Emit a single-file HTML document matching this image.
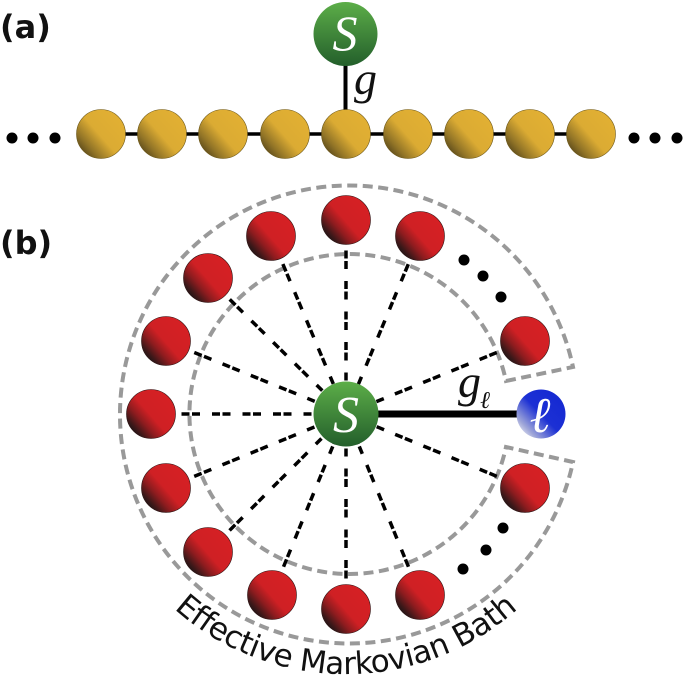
<!DOCTYPE html>
<html>
<head>
<meta charset="utf-8">
<style>
html,body{margin:0;padding:0;background:#fff;width:685px;height:676px;overflow:hidden}
svg{display:block}
</style>
</head>
<body>
<svg width="685" height="676" viewBox="0 0 685 676" xmlns="http://www.w3.org/2000/svg">
<defs>
<linearGradient id="red" x1="0.1" y1="0.85" x2="0.9" y2="0.15">
<stop offset="0" stop-color="#1c1516"/><stop offset="0.1" stop-color="#3d1819"/><stop offset="0.28" stop-color="#8e1c1f"/><stop offset="0.48" stop-color="#cf2024"/><stop offset="1" stop-color="#d62024"/>
</linearGradient>
<linearGradient id="yel" x1="0.1" y1="0.85" x2="0.9" y2="0.15">
<stop offset="0" stop-color="#5e4c1c"/><stop offset="0.17" stop-color="#917427"/><stop offset="0.47" stop-color="#dbab33"/><stop offset="1" stop-color="#e2b033"/>
</linearGradient>
<linearGradient id="grn" x1="0.5" y1="0" x2="0.5" y2="1">
<stop offset="0" stop-color="#5cae48"/><stop offset="0.5" stop-color="#40863a"/><stop offset="1" stop-color="#235f2b"/>
</linearGradient>
<linearGradient id="blu" x1="0.08" y1="0.9" x2="0.92" y2="0.1">
<stop offset="0" stop-color="#e4e6f2"/><stop offset="0.15" stop-color="#9fa6d8"/><stop offset="0.5" stop-color="#1c30d4"/><stop offset="1" stop-color="#1428d2"/>
</linearGradient>
<path id="tp" d="M 150.500 585.000 A 259 259 0 0 0 541.500 585.000" fill="none"/>
</defs>

<text x="0" y="38" font-family="'DejaVu Sans',sans-serif" font-weight="700" font-size="32" fill="#111">(a)</text>
<text x="0" y="254" font-family="'DejaVu Sans',sans-serif" font-weight="700" font-size="32" fill="#111">(b)</text>

<!-- chain -->
<line x1="100" y1="134" x2="592" y2="134" stroke="#000" stroke-width="3.500"/>
<line x1="345.500" y1="60" x2="345.500" y2="115" stroke="#000" stroke-width="4"/>
<g fill="url(#yel)" stroke="#6b5618" stroke-width="0.6">
<circle cx="101" cy="134" r="24.500"/><circle cx="162" cy="134" r="24.500"/><circle cx="223" cy="134" r="24.500"/><circle cx="285" cy="134" r="24.500"/><circle cx="346" cy="134" r="24.500"/><circle cx="408" cy="134" r="24.500"/><circle cx="469" cy="134" r="24.500"/><circle cx="530" cy="134" r="24.500"/><circle cx="591" cy="134" r="24.500"/>
</g>
<g fill="#000">
<circle cx="12" cy="138" r="5.500"/><circle cx="33" cy="138" r="5.500"/><circle cx="55" cy="138" r="5.500"/>
<circle cx="634" cy="138" r="5.500"/><circle cx="655" cy="138" r="5.500"/><circle cx="677" cy="138" r="5.500"/>
</g>
<circle cx="345.500" cy="34" r="32" fill="url(#grn)"/>
<text x="345" y="50" text-anchor="middle" font-family="'Liberation Serif',serif" font-style="italic" font-size="50" fill="#fff">S</text>
<text x="354" y="94" font-family="'Liberation Serif',serif" font-style="italic" font-size="46" fill="#111">g</text>

<!-- gray ring -->
<path d="M 506 381 L 573 367 A 229 229 0 1 0 573 462 L 506 447 A 160 160 0 1 1 506 381 Z" fill="none" stroke="#999" stroke-width="4" stroke-dasharray="10 5.500"/>

<!-- dashed spokes -->
<g stroke="#000" stroke-width="3.500" stroke-dasharray="8 2.500 8 12" fill="none">
<line x1="525" y1="341" x2="346" y2="414"/>
<line x1="420" y1="236" x2="346" y2="414"/>
<line x1="346" y1="220" x2="346" y2="414"/>
<line x1="271" y1="236" x2="346" y2="414"/>
<line x1="208" y1="278" x2="346" y2="414"/>
<line x1="166" y1="341" x2="346" y2="414"/>
<line x1="151" y1="414" x2="346" y2="414"/>
<line x1="166" y1="488" x2="346" y2="414"/>
<line x1="208" y1="552" x2="346" y2="414"/>
<line x1="272" y1="595" x2="346" y2="414"/>
<line x1="346" y1="609" x2="346" y2="414"/>
<line x1="420" y1="595" x2="346" y2="414"/>
<line x1="525" y1="488" x2="346" y2="414"/>
</g>
<line x1="346" y1="414" x2="522" y2="414" stroke="#000" stroke-width="7"/>

<g fill="url(#red)" stroke="#2a1212" stroke-width="0.6">
<circle cx="525" cy="341" r="24.500"/><circle cx="420" cy="236" r="24.500"/><circle cx="346" cy="220" r="24.500"/><circle cx="271" cy="236" r="24.500"/><circle cx="208" cy="278" r="24.500"/><circle cx="166" cy="341" r="24.500"/><circle cx="151" cy="414" r="24.500"/><circle cx="166" cy="488" r="24.500"/><circle cx="208" cy="552" r="24.500"/><circle cx="272" cy="595" r="24.500"/><circle cx="346" cy="609" r="24.500"/><circle cx="420" cy="595" r="24.500"/><circle cx="525" cy="488" r="24.500"/>
</g>
<g fill="#000">
<circle cx="464" cy="260" r="5.500"/><circle cx="483" cy="276" r="5.500"/><circle cx="501" cy="297" r="5.500"/>
<circle cx="463" cy="569" r="5.500"/><circle cx="486" cy="550" r="5.500"/><circle cx="503" cy="528" r="5.500"/>
</g>

<circle cx="346" cy="414" r="32.500" fill="url(#grn)"/>
<text x="346" y="432" text-anchor="middle" font-family="'Liberation Serif',serif" font-style="italic" font-size="52" fill="#fff">S</text>
<circle cx="541" cy="414" r="24.500" fill="url(#blu)"/>
<text x="540" y="432" text-anchor="middle" font-family="'DejaVu Serif','Liberation Serif',serif" font-style="italic" font-size="50" fill="#fff">ℓ</text>
<text x="458" y="397" font-family="'Liberation Serif',serif" font-style="italic" font-size="46" fill="#111">g</text>
<text x="480" y="408" font-family="'DejaVu Serif','Liberation Serif',serif" font-style="italic" font-size="24" fill="#111">ℓ</text>

<text font-family="'DejaVu Sans',sans-serif" font-size="31" fill="#111" text-anchor="middle"><textPath href="#tp" startOffset="50%" textLength="376" lengthAdjust="spacing">Effective Markovian Bath</textPath></text>
</svg>
</body>
</html>
